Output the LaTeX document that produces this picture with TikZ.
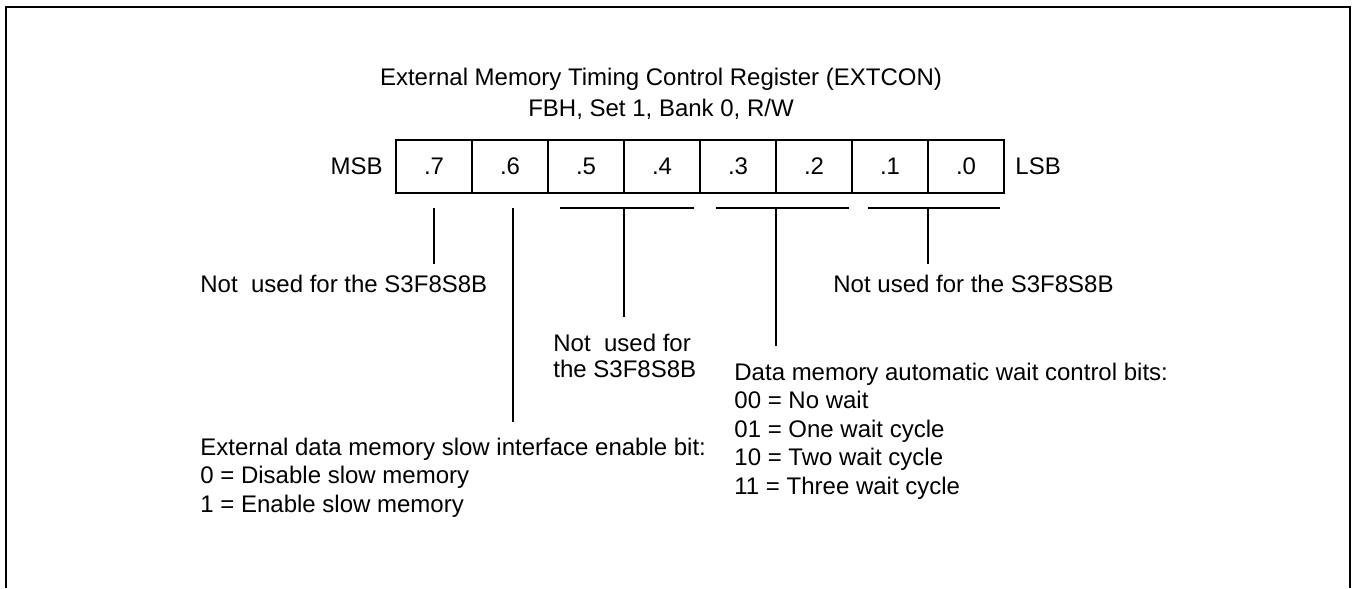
\documentclass[tikz,border=0pt]{standalone}
\usepackage{fontspec}
\setmainfont{Liberation Sans}
\usetikzlibrary{positioning}

\begin{document}
\begin{tikzpicture}[x=0.5pt, y=-0.5pt,
      bitcell/.style={rectangle, draw, line width=0.8pt, minimum width=38pt, minimum height=26.5pt, inner sep=0pt, outer sep=0pt, font=\fontsize{12}{14}\selectfont},
      note/.style={anchor=base west, inner sep=0pt, align=left, font=\fontsize{12}{14.25}\selectfont},
      edge/.style={inner sep=0pt, font=\fontsize{12}{14}\selectfont},
      stem/.style={line width=0.7pt}
    ]
      \useasboundingbox (0,0) rectangle (1352,588);
      \draw[line width=1.35pt] (6,588) -- (6,7) -- (1350,7) -- (1350,588);

      % title (base = last line)
      \node[note, anchor=base, align=center, font=\fontsize{12}{15.5}\selectfont] (title) at (661,117) {External Memory Timing Control Register (EXTCON)\\FBH, Set 1, Bank 0, R/W};

      % register bits
      \node[bitcell] (b7) at (434,166.5) {.7};
      \node[bitcell, right=0pt of b7] (b6) {.6};
      \node[bitcell, right=0pt of b6] (b5) {.5};
      \node[bitcell, right=0pt of b5] (b4) {.4};
      \node[bitcell, right=0pt of b4] (b3) {.3};
      \node[bitcell, right=0pt of b3] (b2) {.2};
      \node[bitcell, right=0pt of b2] (b1) {.1};
      \node[bitcell, right=0pt of b1] (b0) {.0};
      \node[edge, left=6.5pt of b7] (msb) {MSB};
      \node[edge, right=5.5pt of b0] (lsb) {LSB};

      % descriptions (base = last line)
      \node[note] (lbl7) at (200,292) {Not\ \ used for the S3F8S8B};
      \node[note] (lbl6) at (200,512) {External data memory slow interface enable bit:\\0 = Disable slow memory\\1 = Enable slow memory};
      \node[note, font=\fontsize{12}{13}\selectfont] (lbl54) at (553,377) {Not\ \ used for\\the S3F8S8B};
      \node[note] (lbl32) at (734,494) {Data memory automatic wait control bits:\\00 = No wait\\01 = One wait cycle\\10 = Two wait cycle\\11 = Three wait cycle};
      \node[note] (lbl10) at (833,292) {Not used for the S3F8S8B};

      % brackets and stems
      \coordinate (g7) at ([yshift=-7.5pt]b7.south);
      \coordinate (g6) at ([xshift=1.5pt, yshift=-7.5pt]b6.south);
      \coordinate (g54) at ([yshift=-7.5pt]b5.south east);
      \coordinate (g32) at ([yshift=-7.5pt]b3.south east);
      \coordinate (g10) at ([yshift=-7.5pt]b1.south east);
      \coordinate[below=28pt of g7] (e7);
      \coordinate[below=107pt of g6] (e6);
      \coordinate[below=54.5pt of g54] (e54);
      \coordinate[below=69pt of g32] (e32);
      \coordinate[below=28pt of g10] (e10);

      \draw[stem] ([xshift=6pt]g54 -| b5.west) -- ([xshift=-3pt]g54 -| b4.east);
      \draw[stem] ([xshift=8pt]g32 -| b3.west) -- ([xshift=-1.5pt]g32 -| b2.east);
      \draw[stem] ([xshift=8pt]g10 -| b1.west) -- ([xshift=-2pt]g10 -| b0.east);

      \draw[stem] (g7) -- (e7);
      \draw[stem] (g6) -- (e6);
      \draw[stem] (g54) -- (e54);
      \draw[stem] (g32) -- (e32);
      \draw[stem] (g10) -- (e10);
    \end{tikzpicture}
\end{document}
